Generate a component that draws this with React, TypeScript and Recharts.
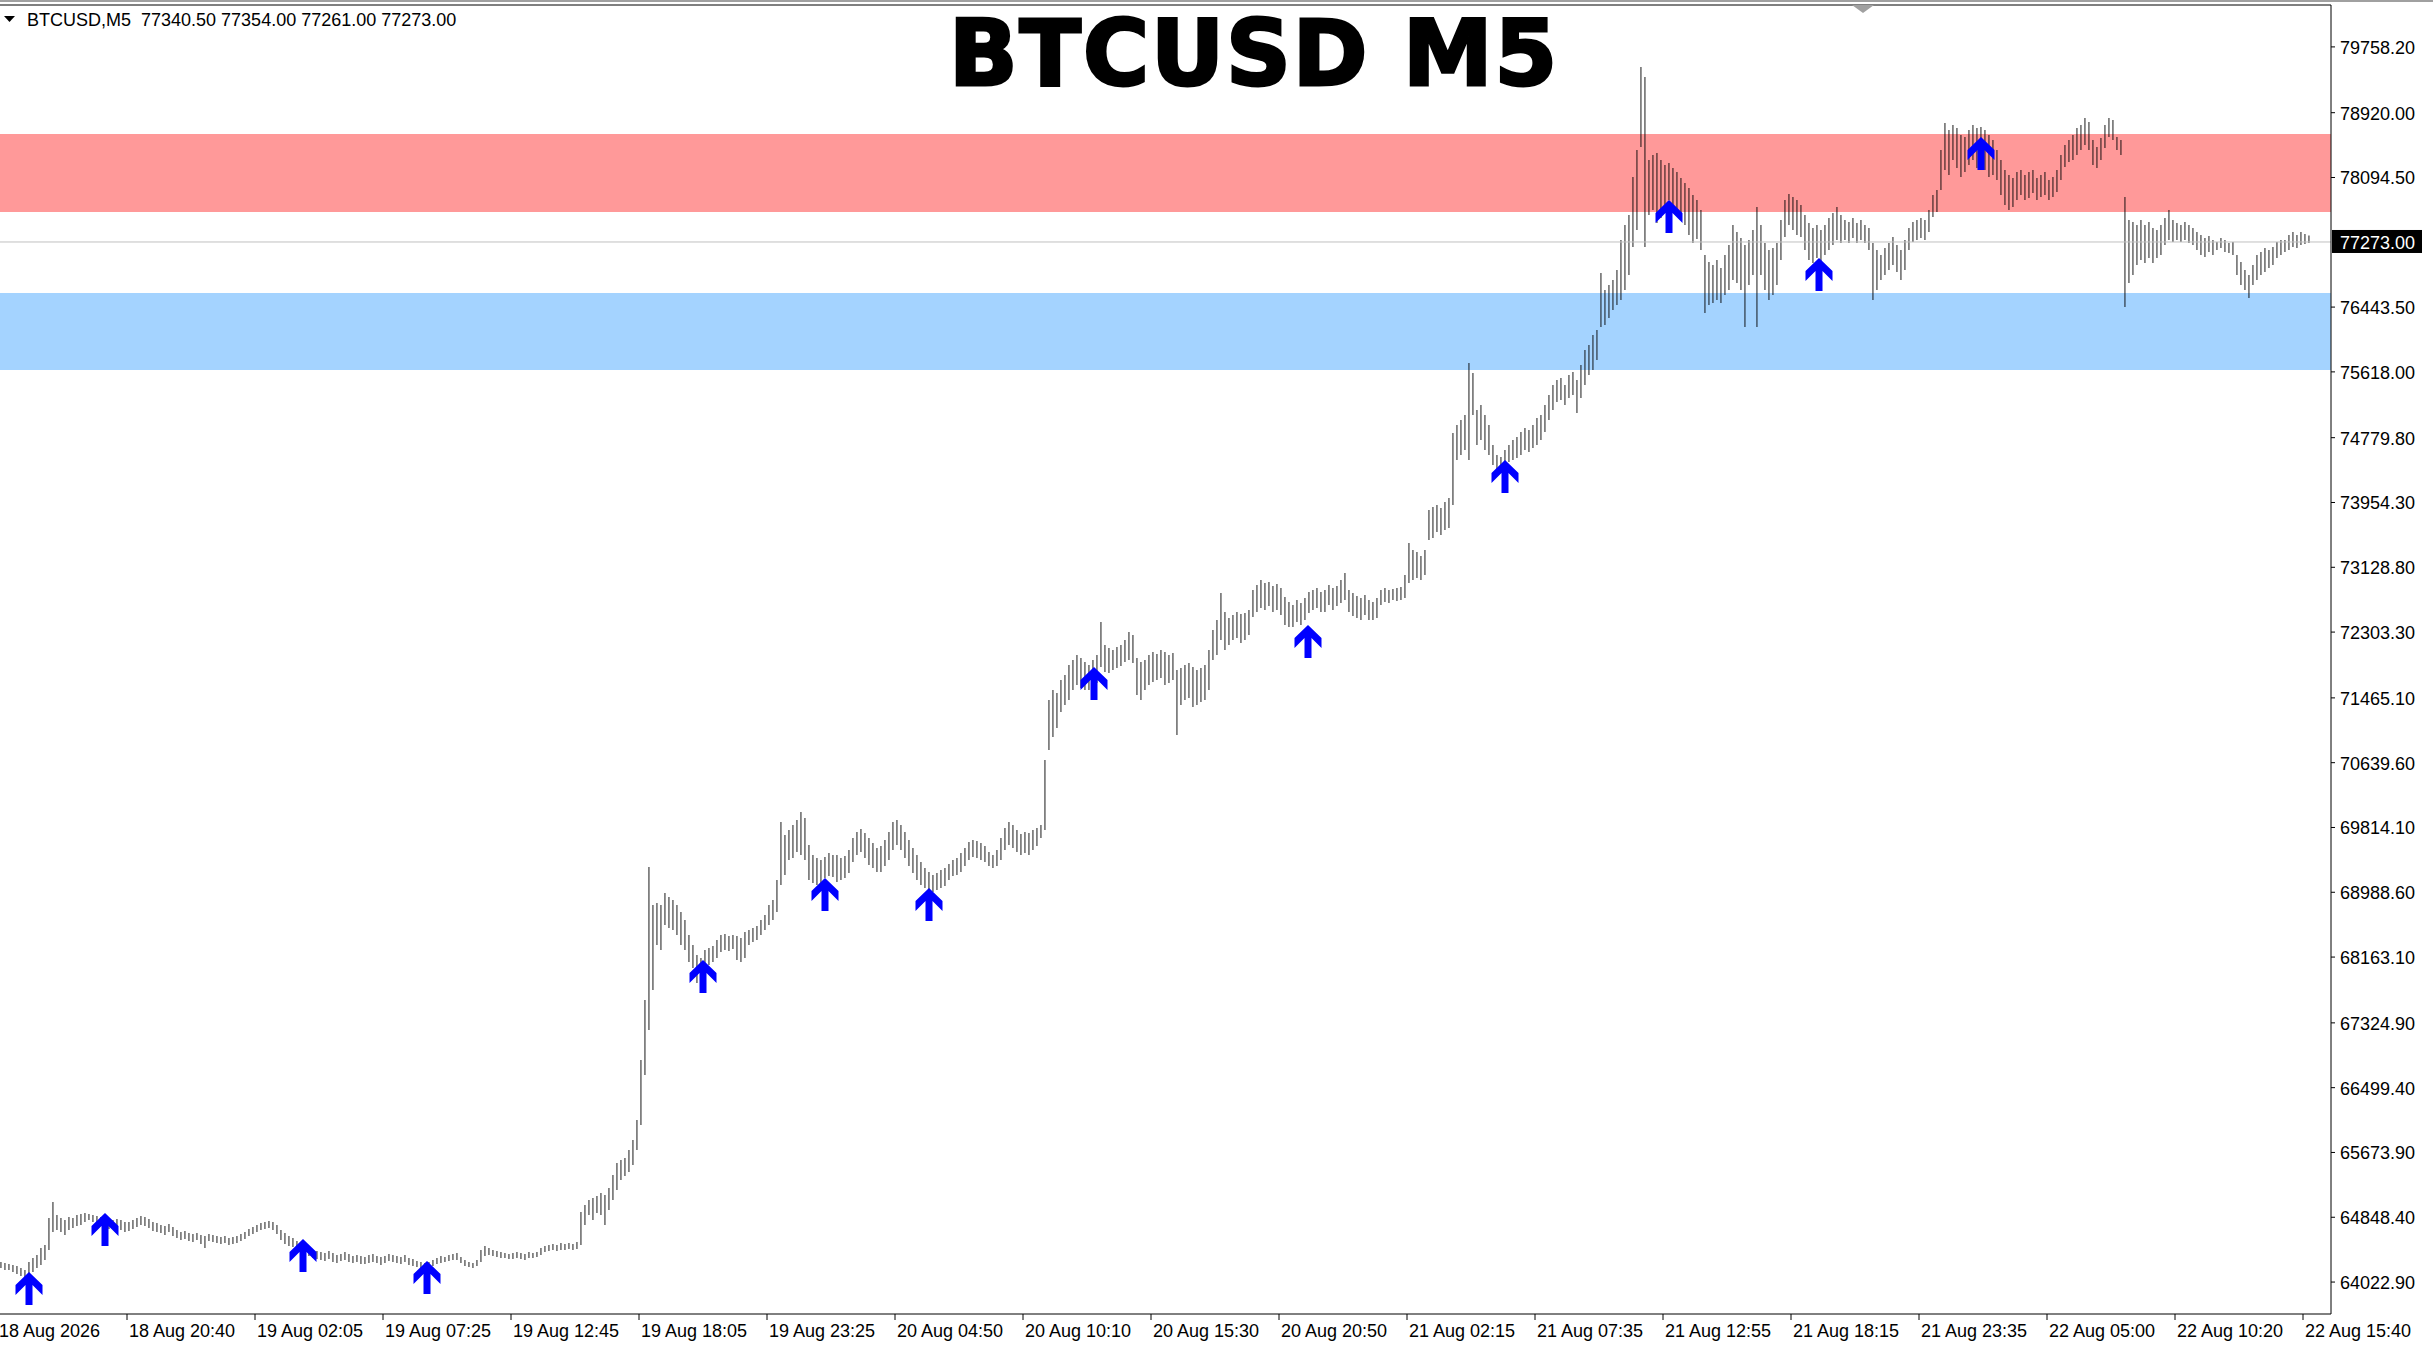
import {
  Bar,
  ComposedChart,
  ReferenceArea,
  ReferenceLine,
  Scatter,
  XAxis,
  YAxis,
} from "recharts";

const headerQuote = "BTCUSD,M5  77340.50 77354.00 77261.00 77273.00";
const chartTitle = "BTCUSD M5";

const timeLabels = [
  "18 Aug 2026", "18 Aug 20:40", "19 Aug 02:05", "19 Aug 07:25", "19 Aug 12:45",
  "19 Aug 18:05", "19 Aug 23:25", "20 Aug 04:50", "20 Aug 10:10", "20 Aug 15:30",
  "20 Aug 20:50", "21 Aug 02:15", "21 Aug 07:35", "21 Aug 12:55", "21 Aug 18:15",
  "21 Aug 23:35", "22 Aug 05:00", "22 Aug 10:20", "22 Aug 15:40",
];
// bar index (M5) where each time label sits
const timeTickBars = [
  -0.5, 63, 127, 191, 255, 319, 383, 447, 511, 575, 639, 703, 767, 831, 895, 959, 1023, 1087, 1151,
];

const priceTicks = [
  79758.2, 78920, 78094.5, 77273, 76443.5, 75618, 74779.8, 73954.3, 73128.8, 72303.3,
  71465.1, 70639.6, 69814.1, 68988.6, 68163.1, 67324.9, 66499.4, 65673.9, 64848.4, 64022.9,
];
const lastClose = 77273;

const resistanceZone = [77655, 78649];
const supportZone = [75642, 76623];

// one entry every 2 M5 bars
const highs = [
  // 18 Aug
  64278, 64265, 64253, 64240, 64227, 64202, 64176, 64278, 64329, 64367, 64457, 64495, 64839, 65043, 64877, 64839,
  64813, 64851, 64839, 64877, 64890, 64903, 64890, 64877, 64864, 64851, 64839, 64826, 64813, 64826, 64813, 64788,
  64788, 64813, 64839, 64864, 64851, 64826, 64788, 64775, 64750, 64737, 64762, 64724, 64686, 64660, 64673, 64648,
  64635, 64648, 64623, 64610, 64635, 64623, 64610, 64597, 64610, 64584, 64597, 64610, 64635, 64660, 64699, 64724,
  // 19 Aug
  64750, 64775, 64788, 64801, 64788, 64750, 64686, 64648, 64610, 64584, 64546, 64521, 64482, 64457, 64431, 64418,
  64406, 64393, 64418, 64393, 64367, 64380, 64406, 64380, 64355, 64367, 64355, 64342, 64367, 64380, 64355, 64342,
  64355, 64380, 64367, 64355, 64342, 64367, 64329, 64316, 64291, 64278, 64265, 64278, 64304, 64329, 64355, 64342,
  64367, 64380, 64393, 64342, 64304, 64278, 64265, 64304, 64431, 64482, 64457, 64431, 64418, 64406, 64393, 64380,
  64393, 64406, 64393, 64380, 64406, 64393, 64406, 64457, 64482, 64495, 64508, 64495, 64521, 64508, 64521, 64508,
  64533, 64915, 65004, 65068, 65094, 65119, 65157, 65132, 65221, 65387, 65539, 65578, 65603, 65705, 65832, 66087,
  66852, 67616, 69310, 68826, 68852, 68826, 68979, 68928, 68890, 68826, 68737, 68635, 68444, 68317, 68189, 68151,
  68253, 68279, 68304, 68381, 68444, 68457, 68432, 68444, 68432, 68406, 68482, 68508, 68533, 68559, 68635, 68699,
  68826, 68890, 69145, 69884, 69718, 69782, 69846, 69909, 70011, 69935, 69591, 69463, 69425, 69400, 69438, 69489,
  69463, 69463, 69425, 69451, 69527, 69680, 69756, 69795, 69744, 69680, 69616, 69553, 69578, 69654, 69756, 69884,
  // 20 Aug
  69909, 69846, 69756, 69654, 69553, 69463, 69374, 69298, 69247, 69208, 69234, 69272, 69298, 69349, 69400, 69425,
  69489, 69553, 69629, 69654, 69642, 69616, 69578, 69502, 69463, 69527, 69680, 69807, 69884, 69846, 69782, 69731,
  69756, 69744, 69782, 69807, 69846, 70674, 71438, 71565, 71527, 71693, 71757, 71884, 71948, 72011, 71973, 71922,
  71884, 71948, 72011, 72432, 72139, 72100, 72075, 72113, 72139, 72202, 72304, 72266, 71973, 71922, 71948, 72011,
  72049, 72024, 72075, 72049, 72011, 72037, 71820, 71846, 71884, 71910, 71859, 71820, 71846, 71884, 72075, 72330,
  72457, 72801, 72559, 72483, 72521, 72559, 72534, 72547, 72585, 72840, 72903, 72967, 72928, 72941, 72890, 72916,
  72865, 72750, 72686, 72648, 72712, 72674, 72737, 72814, 72840, 72865, 72814, 72840, 72903, 72865, 72890, 72967,
  73056, 72840, 72801, 72763, 72737, 72775, 72712, 72686, 72737, 72840, 72865, 72840, 72852, 72865, 72878, 73030,
  // 21 Aug
  73438, 73349, 73324, 73273, 73349, 73859, 73897, 73922, 73884, 73961, 74011, 74840, 74942, 75005, 75069, 75731,
  75604, 75133, 75196, 75069, 74942, 74687, 74559, 74534, 74623, 74687, 74750, 74789, 74853, 74903, 74878, 74942,
  75031, 75069, 75196, 75324, 75451, 75515, 75540, 75451, 75578, 75616, 75515, 75706, 75897, 75961, 76088, 76152,
  76878, 76661, 76725, 76789, 76916, 77299, 77490, 77617, 78101, 78445, 79502, 79375, 78318, 78381, 78407, 78318,
  78254, 78280, 78216, 78165, 78088, 78025, 77961, 77872, 77808, 77681, 77107, 77018, 76980, 77043, 76942, 77107,
  77235, 77490, 77401, 77324, 77235, 77299, 77426, 77719, 77490, 77260, 77171, 77196, 77260, 77553, 77808, 77884,
  77846, 77808, 77744, 77617, 77515, 77452, 77490, 77426, 77490, 77579, 77642, 77719, 77617, 77553, 77528, 77579,
  77515, 77553, 77490, 77452, 77260, 77171, 77107, 77196, 77260, 77337, 77235, 77171, 77299, 77452, 77528, 77553,
  // 22 Aug
  77579, 77553, 77681, 77872, 77935, 78445, 78789, 78700, 78764, 78725, 78636, 78610, 78700, 78764, 78725, 78738,
  78700, 78636, 78572, 78445, 78318, 78190, 78126, 78088, 78165, 78190, 78126, 78165, 78190, 78088, 78126, 78165,
  78063, 78101, 78190, 78381, 78508, 78572, 78636, 78725, 78764, 78853, 78802, 78572, 78483, 78597, 78764, 78853,
  78827, 78610, 78572, 77846, 77553, 77528, 77490, 77553, 77490, 77528, 77452, 77426, 77490, 77579, 77681, 77553,
  77515, 77490, 77528, 77490, 77452, 77401, 77362, 77324, 77350, 77299, 77273, 77324, 77299, 77260, 77273, 77107,
  77018, 76916, 76852, 76980, 77107, 77145, 77196, 77171, 77209, 77273, 77299, 77299, 77362, 77401, 77362, 77401,
  77375, 77354,
];

const lows = [
  // 18 Aug
  64202, 64176, 64176, 64151, 64125, 64100, 64049, 64087, 64151, 64202, 64240, 64304, 64431, 64660, 64686, 64660,
  64623, 64686, 64711, 64737, 64750, 64788, 64813, 64788, 64762, 64737, 64711, 64699, 64711, 64737, 64686, 64660,
  64673, 64699, 64724, 64750, 64737, 64711, 64673, 64660, 64648, 64623, 64660, 64610, 64584, 64559, 64572, 64546,
  64533, 64559, 64508, 64457, 64546, 64533, 64521, 64508, 64521, 64495, 64508, 64521, 64546, 64572, 64610, 64635,
  // 19 Aug
  64660, 64686, 64699, 64711, 64686, 64635, 64559, 64508, 64482, 64470, 64431, 64418, 64380, 64355, 64329, 64316,
  64304, 64291, 64316, 64278, 64265, 64291, 64304, 64278, 64265, 64278, 64253, 64253, 64265, 64278, 64265, 64240,
  64265, 64291, 64278, 64265, 64253, 64278, 64240, 64227, 64214, 64202, 64189, 64214, 64227, 64253, 64265, 64278,
  64291, 64304, 64304, 64265, 64227, 64214, 64202, 64227, 64278, 64355, 64367, 64355, 64342, 64329, 64329, 64316,
  64316, 64329, 64316, 64304, 64329, 64329, 64342, 64367, 64406, 64418, 64431, 64418, 64431, 64431, 64444, 64431,
  64444, 64495, 64750, 64877, 64813, 64903, 64877, 64750, 64941, 65068, 65196, 65323, 65374, 65425, 65514, 65705,
  66024, 66661, 67234, 67743, 68317, 68253, 68572, 68533, 68508, 68444, 68317, 68253, 68100, 68024, 67832, 67807,
  67998, 68062, 68100, 68151, 68227, 68253, 68240, 68266, 68126, 68100, 68151, 68317, 68355, 68381, 68444, 68508,
  68572, 68635, 68737, 69081, 69208, 69400, 69425, 69502, 69463, 69400, 69145, 69106, 69081, 69094, 69170, 69196,
  69183, 69119, 69145, 69170, 69234, 69374, 69463, 69502, 69425, 69336, 69298, 69247, 69247, 69323, 69400, 69527,
  // 20 Aug
  69591, 69527, 69425, 69323, 69234, 69145, 69081, 69043, 69017, 68992, 69017, 69043, 69068, 69145, 69196, 69208,
  69247, 69323, 69400, 69438, 69425, 69400, 69374, 69323, 69298, 69323, 69400, 69527, 69591, 69553, 69502, 69463,
  69489, 69463, 69527, 69578, 69680, 69782, 70801, 70967, 71082, 71285, 71374, 71438, 71565, 71629, 71591, 71565,
  71565, 71591, 71654, 71859, 71795, 71782, 71820, 71846, 71871, 71922, 71948, 71910, 71502, 71438, 71565, 71629,
  71667, 71693, 71718, 71629, 71654, 71693, 70992, 71374, 71438, 71463, 71349, 71374, 71412, 71438, 71565, 71948,
  72011, 72202, 72075, 72139, 72202, 72228, 72164, 72202, 72266, 72496, 72559, 72610, 72585, 72635, 72559, 72585,
  72521, 72394, 72368, 72368, 72432, 72394, 72457, 72547, 72585, 72610, 72559, 72559, 72648, 72585, 72635, 72674,
  72712, 72559, 72508, 72483, 72457, 72521, 72457, 72457, 72483, 72648, 72686, 72674, 72712, 72699, 72712, 72737,
  // 21 Aug
  72929, 72967, 72992, 72967, 73030, 73476, 73502, 73578, 73540, 73603, 73629, 73922, 74496, 74559, 74623, 74496,
  75069, 74687, 74750, 74623, 74559, 74432, 74368, 74368, 74419, 74470, 74496, 74521, 74559, 74623, 74597, 74648,
  74687, 74750, 74853, 75005, 75133, 75234, 75260, 75196, 75285, 75324, 75094, 75285, 75451, 75578, 75642, 75769,
  76190, 76216, 76305, 76406, 76470, 76534, 76661, 76852, 77209, 77426, 78483, 77209, 77617, 77681, 77515, 77579,
  77719, 77808, 77744, 77681, 77617, 77490, 77362, 77260, 77311, 77171, 76368, 76470, 76496, 76534, 76496, 76598,
  76661, 76789, 76751, 76661, 76190, 76725, 76852, 76190, 76852, 76661, 76534, 76598, 76725, 77043, 77337, 77490,
  77426, 77362, 77337, 77171, 77043, 77005, 77069, 77018, 77107, 77171, 77235, 77299, 77260, 77299, 77260, 77324,
  77260, 77299, 77260, 77171, 76534, 76661, 76789, 76852, 76916, 76980, 76891, 76789, 76916, 77171, 77273, 77299,
  // 22 Aug
  77324, 77299, 77401, 77592, 77655, 77935, 78190, 78126, 78318, 78216, 78101, 78165, 78254, 78318, 78216, 78318,
  78190, 78101, 78126, 78063, 77872, 77744, 77681, 77719, 77808, 77872, 77808, 77833, 77897, 77808, 77846, 77872,
  77808, 77846, 77910, 78063, 78228, 78292, 78318, 78381, 78445, 78508, 78445, 78254, 78216, 78318, 78470, 78610,
  78572, 78445, 78381, 76445, 76751, 76852, 76980, 77043, 77005, 77069, 77005, 77069, 77107, 77235, 77299, 77273,
  77299, 77273, 77299, 77260, 77235, 77171, 77107, 77082, 77145, 77107, 77171, 77196, 77145, 77133, 77107, 76852,
  76725, 76661, 76560, 76725, 76789, 76852, 76891, 76942, 76980, 77069, 77107, 77145, 77171, 77209, 77196, 77235,
  77247, 77261,
];

// blue buy arrows: bar index and the price at the arrow tip
const signalBars = [14, 52, 151, 213, 351, 412, 464, 546.5, 653.5, 752, 834, 909, 990];
const signalPrices = [64151, 64903, 64571, 64291, 68126, 69170, 69043, 71858, 72394, 74496, 77808, 77069, 78611];

const W = 2433;
const H = 1348;
const PLOT_TOP = 5;
const PLOT_RIGHT = 2331;
const PLOT_BOTTOM = 1314;
const PRICE_MIN = 63616;
const PRICE_MAX = 80292;
const FONT = "'Liberation Sans', Arial, sans-serif";

const candles = highs.map((high, i) => ({ bar: i * 2, high, low: lows[i] }));
const signals = signalBars.map((bar, i) => ({ bar, price: signalPrices[i] }));

function UpArrow(props: any) {
  const { cx, cy } = props;
  if (cx == null || cy == null) return null;
  const shape = [
    [0, 0], [13.5, 13], [13.5, 23], [3.5, 13], [3.5, 33],
    [-3.5, 33], [-3.5, 13], [-13.5, 23], [-13.5, 13],
  ];
  const pts = shape.map(([dx, dy]) => `${cx + dx},${cy + dy}`).join(" ");
  return <polygon points={pts} fill="#0000ff" />;
}

function PriceTick(props: any) {
  const { y, payload } = props;
  const v = payload.value as number;
  const label = v.toFixed(2);
  if (v === lastClose) {
    return (
      <g>
        <rect x={PLOT_RIGHT + 1} y={y - 12} width={90} height={23} fill="#000" />
        <text x={PLOT_RIGHT + 9} y={y + 7} fill="#fff" fontSize={18} fontFamily={FONT}>
          {label}
        </text>
      </g>
    );
  }
  return (
    <g>
      <line x1={PLOT_RIGHT} x2={PLOT_RIGHT + 4} y1={y} y2={y} stroke="#000" />
      <text x={PLOT_RIGHT + 9} y={y + 7} fill="#000" fontSize={18} fontFamily={FONT}>
        {label}
      </text>
    </g>
  );
}

function TimeTick(props: any) {
  const { x, payload } = props;
  const i = timeTickBars.indexOf(payload.value);
  if (i < 0) return null;
  return (
    <g>
      {i > 0 && <line x1={x} x2={x} y1={PLOT_BOTTOM} y2={PLOT_BOTTOM + 6} stroke="#000" />}
      <text x={i === 0 ? x - 1 : x + 2} y={PLOT_BOTTOM + 23} fill="#000" fontSize={18} fontFamily={FONT}>
        {timeLabels[i]}
      </text>
    </g>
  );
}

export default function App() {
  return (
    <div style={{ position: "fixed", left: 0, top: 0, width: W, height: H, background: "#fff" }}>
      <style>{"body{margin:0}"}</style>
      <ComposedChart
        width={W}
        height={H}
        data={candles}
        margin={{ top: PLOT_TOP, right: 0, bottom: 0, left: 0 }}
      >
        <XAxis
          dataKey="bar"
          type="number"
          domain={[-0.5, 1165]}
          ticks={timeTickBars}
          interval={0}
          allowDataOverflow
          height={H - PLOT_BOTTOM}
          tickLine={false}
          axisLine={{ stroke: "#000" }}
          tick={<TimeTick />}
        />
        <YAxis
          orientation="right"
          type="number"
          domain={[PRICE_MIN, PRICE_MAX]}
          ticks={priceTicks}
          interval={0}
          allowDataOverflow
          width={W - PLOT_RIGHT}
          tickLine={false}
          axisLine={{ stroke: "#000" }}
          tick={<PriceTick />}
        />
        <ReferenceArea
          y1={resistanceZone[0]}
          y2={resistanceZone[1]}
          fill="#ff9999"
          fillOpacity={1}
          stroke="none"
          zIndex={-10}
        />
        <ReferenceArea
          y1={supportZone[0]}
          y2={supportZone[1]}
          fill="#a4d3ff"
          fillOpacity={1}
          stroke="none"
          zIndex={-10}
        />
        <ReferenceLine y={lastClose} stroke="#c0c0c0" />
        <ReferenceLine y={PRICE_MAX} stroke="#000" />
        <Bar
          dataKey={(d: any) => [d.low, d.high]}
          fill="#000"
          barSize={2}
          isAnimationActive={false}
        />
        <Scatter data={signals} dataKey="price" shape={UpArrow} isAnimationActive={false} />
      </ComposedChart>
      <svg
        width={W}
        height={H}
        style={{ position: "absolute", left: 0, top: 0, pointerEvents: "none" }}
      >
        <rect x={0} y={0} width={W} height={2} fill="#a0a0a0" />
        <polygon points="1852,5 1874,5 1863,13" fill="#a0a0a0" />
        <polygon points="4,16 15,16 9.5,22" fill="#000" />
        <text x={27} y={26} fontSize={18} fontFamily={FONT} fill="#000" style={{ whiteSpace: "pre" }}>
          {headerQuote}
        </text>
        <text
          x={1254}
          y={85}
          textAnchor="middle"
          fontSize={90}
          fontWeight="bold"
          letterSpacing={2}
          fontFamily="'DejaVu Sans', sans-serif"
          fill="#000"
          stroke="#000"
          strokeWidth={3}
        >
          {chartTitle}
        </text>
      </svg>
    </div>
  );
}
